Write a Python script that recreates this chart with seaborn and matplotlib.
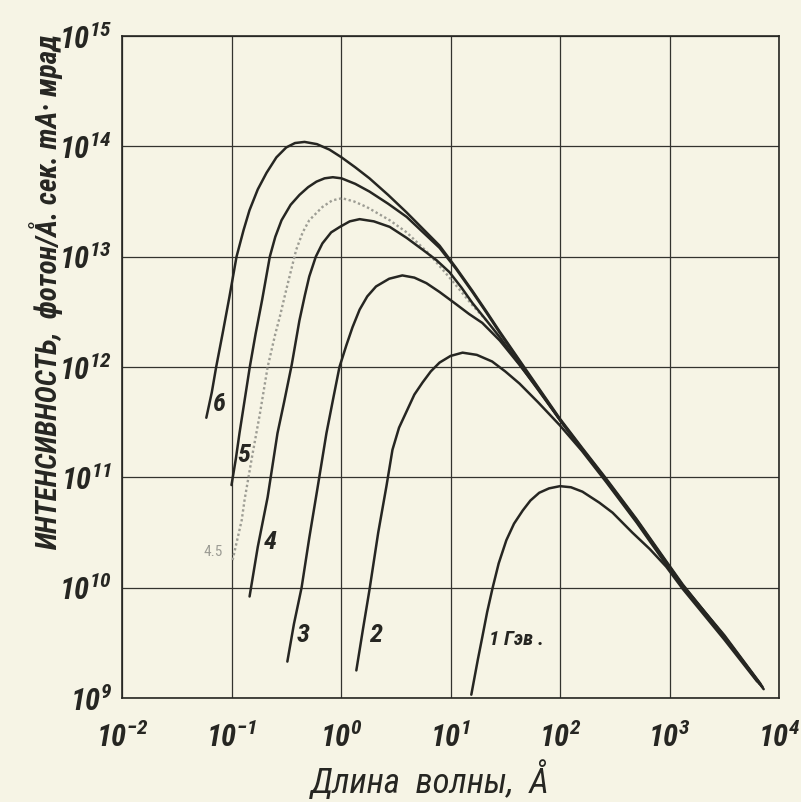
import numpy as np
import pandas as pd
import matplotlib
matplotlib.use("Agg")
import matplotlib.pyplot as plt
import seaborn as sns

# Spectral curves, log10 values:
# wavelength (Angstrom) and intensity (photon / A.s.mA.mrad)
c6_lam = [-1.23, -1.18, -1.14, -1.08, -1.02, -0.954, -0.89, -0.836, -0.76, -0.68,
          -0.59, -0.50, -0.42, -0.333, -0.22, -0.105, 0.005, 0.13, 0.26, 0.43,
          0.60, 0.75, 0.90, 1.05, 1.20, 1.33, 1.45, 1.70, 2.00, 2.20,
          2.42, 2.70, 2.97, 3.12, 3.50, 3.86]
c6_int = [11.54, 11.77, 12.00, 12.31, 12.63, 13.00, 13.24, 13.42, 13.61, 13.76,
          13.90, 13.99, 14.03, 14.04, 14.02, 13.97, 13.90, 13.81, 13.71, 13.56,
          13.40, 13.25, 13.10, 12.90, 12.69, 12.50, 12.32, 11.96, 11.53, 11.27,
          10.99, 10.62, 10.24, 10.03, 9.56, 9.08]

c5_lam = [-1.00, -0.96, -0.927, -0.88, -0.833, -0.78, -0.72, -0.65, -0.60, -0.543,
          -0.46, -0.379, -0.30, -0.224, -0.15, -0.075, 0.005, 0.13, 0.26, 0.43,
          0.60, 0.75, 0.90, 1.05, 1.20, 1.33, 1.45, 1.70, 2.00, 2.20,
          2.42, 2.70, 2.97, 3.12, 3.50, 3.85]
c5_int = [10.93, 11.17, 11.40, 11.70, 12.00, 12.30, 12.61, 13.00, 13.18, 13.33,
          13.47, 13.56, 13.63, 13.68, 13.71, 13.72, 13.71, 13.66, 13.59, 13.48,
          13.36, 13.22, 13.08, 12.89, 12.68, 12.49, 12.31, 11.95, 11.52, 11.26,
          10.98, 10.61, 10.23, 10.02, 9.56, 9.10]

# pencil curve, 4.5 GeV
c45_lam = [-0.99, -0.907, -0.88, -0.81, -0.74, -0.67, -0.60, -0.56, -0.50, -0.45,
           -0.41, -0.35, -0.29, -0.17, -0.08, 0.01, 0.12, 0.235, 0.445, 0.60,
           0.80, 1.00, 1.20, 1.33]
c45_int = [10.25, 10.61, 10.80, 11.20, 11.58, 12.00, 12.30, 12.45, 12.70, 12.90,
           13.06, 13.22, 13.33, 13.45, 13.51, 13.53, 13.50, 13.45, 13.33, 13.22,
           13.03, 12.80, 12.56, 12.42]

c4_lam = [-0.835, -0.76, -0.67, -0.58, -0.52, -0.45, -0.38, -0.33, -0.29, -0.23,
          -0.17, -0.09, -0.01, 0.08, 0.17, 0.30, 0.445, 0.60, 0.75, 0.87,
          0.99, 1.10, 1.20, 1.33, 1.45, 1.70, 2.00, 2.20, 2.42, 2.70,
          2.97, 3.12, 3.50, 3.83]
c4_int = [9.92, 10.37, 10.82, 11.40, 11.68, 12.02, 12.42, 12.65, 12.82, 13.00,
          13.12, 13.22, 13.27, 13.32, 13.34, 13.32, 13.27, 13.17, 13.06, 12.97,
          12.86, 12.72, 12.58, 12.42, 12.27, 11.93, 11.52, 11.26, 10.98, 10.61,
          10.23, 10.02, 9.57, 9.13]

c3_lam = [-0.49, -0.43, -0.36, -0.29, -0.215, -0.133, -0.07, -0.014, 0.05, 0.105,
          0.17, 0.24, 0.32, 0.44, 0.56, 0.67, 0.78, 0.90, 1.05, 1.17,
          1.29, 1.45, 1.63, 1.80, 2.00, 2.20, 2.42, 2.70, 2.97, 3.12,
          3.50, 3.84]
c3_int = [9.33, 9.67, 10.00, 10.45, 10.90, 11.40, 11.72, 12.00, 12.20, 12.36,
          12.52, 12.64, 12.73, 12.80, 12.83, 12.81, 12.76, 12.68, 12.57, 12.48,
          12.40, 12.24, 12.02, 11.80, 11.52, 11.25, 10.97, 10.60, 10.22, 10.01,
          9.55, 9.11]

c2_lam = [0.14, 0.20, 0.26, 0.34, 0.415, 0.47, 0.53, 0.60, 0.67, 0.745,
          0.82, 0.90, 1.00, 1.11, 1.24, 1.38, 1.50, 1.63, 1.80, 2.00,
          2.20, 2.42, 2.70, 2.97, 3.12, 3.50, 3.82]
c2_int = [9.25, 9.62, 9.98, 10.50, 10.92, 11.25, 11.45, 11.60, 11.75, 11.86,
          11.96, 12.04, 12.10, 12.13, 12.11, 12.05, 11.96, 11.85, 11.68, 11.47,
          11.24, 10.96, 10.59, 10.21, 10.00, 9.55, 9.13]

c1_lam = [1.19, 1.25, 1.29, 1.335, 1.385, 1.44, 1.51, 1.58, 1.66, 1.73,
          1.81, 1.90, 2.00, 2.10, 2.205, 2.36, 2.48, 2.66, 2.82, 2.97,
          3.12, 3.50, 3.80]
c1_int = [9.03, 9.35, 9.55, 9.78, 10.00, 10.22, 10.43, 10.58, 10.70, 10.79,
          10.86, 10.90, 10.92, 10.91, 10.87, 10.77, 10.68, 10.50, 10.35, 10.19,
          9.99, 9.53, 9.15]

energies = ["6", "5", "4.5", "4", "3", "2", "1"]
curves = [(c6_lam, c6_int), (c5_lam, c5_int), (c45_lam, c45_int), (c4_lam, c4_int),
          (c3_lam, c3_int), (c2_lam, c2_int), (c1_lam, c1_int)]

x_ticks = [1e-2, 1e-1, 1e0, 1e1, 1e2, 1e3, 1e4]
x_ticklabels = [r"$10^{-2}$", r"$10^{-1}$", r"$10^{0}$", r"$10^{1}$",
                r"$10^{2}$", r"$10^{3}$", r"$10^{4}$"]
y_ticks = [1e9, 1e10, 1e11, 1e12, 1e13, 1e14, 1e15]
y_ticklabels = [r"$10^{9}$", r"$10^{10}$", r"$10^{11}$", r"$10^{12}$",
                r"$10^{13}$", r"$10^{14}$", r"$10^{15}$"]

# long table for seaborn
frames = []
for e, (lam, inten) in zip(energies, curves):
    frames.append(pd.DataFrame({"lam": np.power(10.0, lam),
                                "I": np.power(10.0, inten),
                                "E": e}))
df = pd.concat(frames, ignore_index=True)

# ================================
# Styling: old paper look
# ================================
paper = "#f6f4e5"
ink = "#262622"

sns.set_style("white")
plt.rcParams["font.family"] = ["Roboto Condensed", "DejaVu Sans"]
plt.rcParams["mathtext.fontset"] = "custom"
plt.rcParams["mathtext.rm"] = "Roboto Condensed:italic:bold"
plt.rcParams["mathtext.it"] = "Roboto Condensed:italic:bold"
plt.rcParams["mathtext.bf"] = "Roboto Condensed:italic:bold"

fig = plt.figure(figsize=(8.01, 8.02), dpi=100, facecolor=paper)
ax = fig.add_axes([122 / 801, 1 - 698 / 802, 657 / 801, 662 / 802])
ax.set_facecolor(paper)

palette = {e: ink for e in energies}
palette["4.5"] = "#9d9d94"

for e in energies:
    sub = df[df["E"] == e]
    if e == "4.5":
        sns.lineplot(data=sub, x="lam", y="I", ax=ax, color=palette[e],
                     lw=1.7, sort=False, estimator=None,
                     linestyle=(0, (1.0, 1.1)))
    else:
        sns.lineplot(data=sub, x="lam", y="I", ax=ax, color=palette[e],
                     lw=1.8, sort=False, estimator=None,
                     solid_joinstyle="round")

ax.set_xscale("log")
ax.set_yscale("log")
ax.set_xlim(1e-2, 1e4)
ax.set_ylim(1e9, 1e15)
ax.minorticks_off()
ax.set_xticks(x_ticks)
ax.set_xticklabels(x_ticklabels, fontsize=22, color=ink)
ax.set_yticks(y_ticks)
ax.set_yticklabels(y_ticklabels, fontsize=22, color=ink)
ax.tick_params(axis="x", length=0, pad=17)
ax.tick_params(axis="y", length=0, pad=7)
ax.grid(True, which="major", color="#33332e", lw=0.9)
for s in ax.spines.values():
    s.set_color(ink)
    s.set_linewidth(1.2)
ax.set_xlabel("")
ax.set_ylabel("")

# curve labels
lab_kw = dict(fontsize=19, style="italic", color=ink, fontweight="bold")
ax.text(0.068, 4.6e11, "6", ha="left", va="center", **lab_kw)
ax.text(0.112, 1.6e11, "5", ha="left", va="center", **lab_kw)
ax.text(0.195, 2.6e10, "4", ha="left", va="center", **lab_kw)
ax.text(0.39, 3.7e9, "3", ha="left", va="center", **lab_kw)
ax.text(1.82, 3.7e9, "2", ha="left", va="center", **lab_kw)
ax.text(22.5, 3.4e9, "1 Гэв .", ha="left", va="center", fontsize=15,
        style="italic", fontweight="bold", color=ink)
ax.text(0.056, 2.1e10, "4.5", ha="left", va="center", fontsize=11,
        color="#9c9c94")

# axis titles
fig.text(430 / 801, 1 - 780 / 802, "Длина  волны,  Å", ha="center", va="center",
         fontsize=25, style="italic", color=ink)
fig.text(46 / 801, 1 - 292 / 802, "ИНТЕНСИВНОСТЬ,  фотон/Å. сек. mA· мрад",
         rotation=90, ha="center", va="center", fontsize=21, style="italic",
         fontweight="bold", color=ink)

fig.savefig("out.png", dpi=100, facecolor=paper)
